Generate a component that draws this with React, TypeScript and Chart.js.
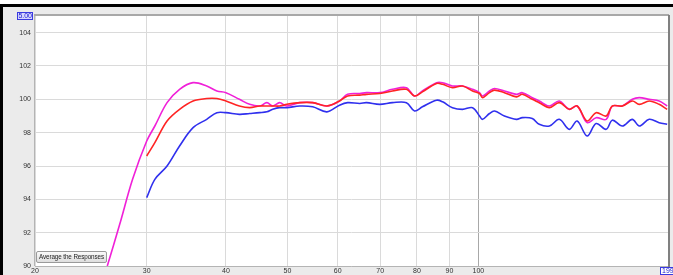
import React, { useEffect, useRef } from "react";
import { Chart, registerables } from "chart.js";

Chart.register(...registerables);

const FREQS = [26, 27.2, 28.5, 30, 30.9, 32.3, 33.8, 35.5, 37.3, 38.7, 40, 42, 43.6, 45.2, 46.4, 47.4, 48.6, 49.9, 52.3, 54.8, 57.7, 60.4, 62.2, 65, 66.6, 69.9, 73.2, 77, 79.3, 81.6, 85.9, 87.8, 91, 94.4, 97.9, 100.4, 101.5, 104.1, 106, 109.9, 114.8, 117.3, 121.6, 124.7, 129.4, 134.1, 139.1, 143.1, 148.4, 153.3, 159, 162.6, 168.6, 174.8, 179.3, 185.9, 192.7, 198.4];

const MAGENTA = [90, 92.5, 95.2, 97.5, 98.4, 99.8, 100.6, 101.0, 100.8, 100.5, 100.4, 100.0, 99.7, 99.6, 99.8, 99.6, 99.8, 99.6, 99.8, 99.8, 99.6, 99.9, 100.3, 100.35, 100.4, 100.4, 100.6, 100.7, 100.2, 100.5, 101.0, 101.0, 100.8, 100.8, 100.6, 100.4, 100.2, 100.5, 100.65, 100.5, 100.3, 100.4, 100.1, 99.9, 99.6, 99.9, 99.4, 99.6, 98.6, 98.9, 98.8, 99.6, 99.6, 100.0, 100.1, 100.0, 99.9, 99.6];

const RED = [null, null, null, 96.6, 97.4, 98.7, 99.4, 99.9, 100.05, 100.05, 99.9, 99.6, 99.5, 99.6, 99.6, 99.6, 99.6, 99.7, 99.8, 99.8, 99.6, 99.9, 100.2, 100.25, 100.3, 100.35, 100.5, 100.6, 100.2, 100.45, 100.95, 100.9, 100.7, 100.8, 100.5, 100.35, 100.1, 100.4, 100.55, 100.4, 100.15, 100.3, 100.0, 99.8, 99.5, 99.8, 99.4, 99.6, 98.7, 99.2, 99.0, 99.6, 99.6, 99.9, 99.7, 99.9, 99.7, 99.4];

const BLUE = [null, null, null, 94.1, 95.2, 96.0, 97.2, 98.3, 98.8, 99.2, 99.2, 99.1, 99.15, 99.2, 99.25, 99.4, 99.5, 99.5, 99.6, 99.55, 99.25, 99.65, 99.8, 99.75, 99.8, 99.7, 99.8, 99.8, 99.3, 99.55, 99.95, 99.85, 99.5, 99.4, 99.5, 99.0, 98.8, 99.15, 99.3, 99.0, 98.8, 98.9, 98.85, 98.5, 98.4, 98.8, 98.2, 98.7, 97.8, 98.55, 98.2, 98.75, 98.4, 98.8, 98.4, 98.8, 98.6, 98.5];

const X_TICKS = [20, 30, 40, 50, 60, 70, 80, 90, 100];
const Y_TICKS = [90, 92, 94, 96, 98, 100, 102, 104];
const X_MIN = 20;
const X_MAX = 199;
const Y_MIN = 90;
const Y_MAX = 105;
const BUTTON_LABEL = "Average the Responses";

const FONT = "'Liberation Sans', Arial, sans-serif";

function toPoints(vals: (number | null)[]) {
  const pts: { x: number; y: number }[] = [];
  vals.forEach((v, i) => {
    if (v !== null) pts.push({ x: FREQS[i], y: v });
  });
  return pts;
}

const chromePlugin = {
  id: "chrome",
  beforeDraw(chart: any) {
    const { ctx, width, height, chartArea } = chart;
    ctx.save();
    ctx.fillStyle = "#ebebeb";
    ctx.fillRect(0, 0, width, height);
    ctx.fillStyle = "#ffffff";
    ctx.fillRect(0, 0, width, 4);
    ctx.fillStyle = "#000000";
    ctx.fillRect(0, 4, width, 3);
    ctx.fillRect(0, 7, 3, height - 7);
    ctx.fillStyle = "#ffffff";
    ctx.fillRect(chartArea.left, chartArea.top, chartArea.right - chartArea.left, chartArea.bottom - chartArea.top);
    ctx.restore();
  },
  afterDraw(chart: any) {
    const { ctx, chartArea, scales } = chart;
    ctx.save();
    // plot frame
    ctx.strokeStyle = "#b4b4b4";
    ctx.lineWidth = 1;
    ctx.beginPath();
    ctx.moveTo(chartArea.left - 0.5, chartArea.top);
    ctx.lineTo(chartArea.left - 0.5, chartArea.bottom);
    ctx.moveTo(chartArea.left, chartArea.bottom + 0.5);
    ctx.lineTo(chartArea.right, chartArea.bottom + 0.5);
    ctx.stroke();
    ctx.strokeStyle = "#a8a8a8";
    ctx.lineWidth = 2;
    ctx.beginPath();
    ctx.moveTo(chartArea.left - 1, chartArea.top - 1);
    ctx.lineTo(chartArea.right + 1, chartArea.top - 1);
    ctx.stroke();
    ctx.strokeStyle = "#808080";
    ctx.beginPath();
    ctx.moveTo(chartArea.right + 1, chartArea.top - 1);
    ctx.lineTo(chartArea.right + 1, chartArea.bottom + 1);
    ctx.stroke();

    // top y-axis value box
    const yTop = scales.y.getPixelForValue(Y_MAX);
    const bx = 17, bw = 16, bh = 8, by = Math.round(yTop) - 4;
    ctx.fillStyle = "#d8d8ff";
    ctx.fillRect(bx, by, bw, bh);
    ctx.strokeStyle = "#3a3ae0";
    ctx.lineWidth = 1;
    ctx.strokeRect(bx + 0.5, by + 0.5, bw - 1, bh - 1);
    ctx.save();
    ctx.beginPath();
    ctx.rect(bx + 1, by, bw - 2, bh);
    ctx.clip();
    ctx.fillStyle = "#2020d0";
    ctx.font = "7px " + FONT;
    ctx.textAlign = "right";
    ctx.textBaseline = "middle";
    ctx.fillText(Y_MAX.toFixed(2), bx + bw - 1, by + bh / 2 + 0.5);
    ctx.restore();

    // right x-axis value box
    const xr = scales.x.getPixelForValue(X_MAX);
    const rx = Math.round(xr) - 8, ry = chartArea.bottom + 1, rw = 16, rh = 8;
    ctx.fillStyle = "#ffffff";
    ctx.fillRect(rx, ry, rw, rh);
    ctx.strokeStyle = "#3a3ae0";
    ctx.strokeRect(rx + 0.5, ry + 0.5, rw - 1, rh - 1);
    ctx.fillStyle = "#2020d0";
    ctx.font = "7px " + FONT;
    ctx.textAlign = "left";
    ctx.textBaseline = "middle";
    ctx.fillText(String(X_MAX), rx + 2, ry + rh / 2 + 0.5);
    ctx.restore();
  },
};

export default function App() {
  const ref = useRef<HTMLCanvasElement | null>(null);
  useEffect(() => {
    if (!ref.current) return;
    const chart = new Chart(ref.current, {
      type: "line",
      data: {
        datasets: [
          { label: "Red", data: toPoints(RED), borderColor: "#ff2424", borderWidth: 1.6, pointRadius: 0, tension: 0.35, fill: false },
          { label: "Magenta", data: toPoints(MAGENTA), borderColor: "#f020d8", borderWidth: 1.6, pointRadius: 0, tension: 0.35, fill: false },
          { label: "Blue", data: toPoints(BLUE), borderColor: "#3030ee", borderWidth: 1.6, pointRadius: 0, tension: 0.35, fill: false },
        ],
      },
      options: {
        responsive: false,
        animation: false,
        events: [],
        layout: { padding: { top: 16, right: 5, left: 0, bottom: 0 } },
        plugins: { legend: { display: false }, tooltip: { enabled: false } },
        scales: {
          x: {
            type: "logarithmic",
            min: X_MIN,
            max: X_MAX,
            afterBuildTicks: (s: any) => {
              s.ticks = X_TICKS.map((v) => ({ value: v }));
            },
            afterFit: (s: any) => {
              s.height = 9;
            },
            ticks: {
              autoSkip: false,
              maxRotation: 0,
              padding: 1,
              color: "#333333",
              font: { size: 7, family: FONT },
              callback: (v: any) => String(v),
            },
            grid: {
              drawTicks: false,
              color: (c: any) => (c.tick && c.tick.value === 100 ? "#a8a8a8" : "#dadada"),
              lineWidth: 1,
            },
            border: { display: false },
          },
          y: {
            type: "linear",
            min: Y_MIN,
            max: Y_MAX,
            afterBuildTicks: (s: any) => {
              s.ticks = Y_TICKS.map((v) => ({ value: v }));
            },
            afterFit: (s: any) => {
              s.width = 35;
            },
            ticks: {
              padding: 4,
              color: "#333333",
              font: { size: 7, family: FONT },
              callback: (v: any) => String(v),
            },
            grid: { drawTicks: false, color: "#dadada", lineWidth: 1 },
            border: { display: false },
          },
        },
      },
      plugins: [chromePlugin],
    });
    return () => chart.destroy();
  }, []);

  return (
    <div style={{ position: "absolute", left: 0, top: 0, width: 673, height: 275, overflow: "hidden" }}>
      <canvas ref={ref} width={673} height={275} style={{ display: "block" }} />
      <div
        style={{
          position: "absolute",
          left: 36,
          top: 251,
          width: 71,
          height: 12,
          boxSizing: "border-box",
          border: "1px solid #9a9a9a",
          borderRadius: 2,
          background: "linear-gradient(#fafafa, #dedede)",
          fontFamily: FONT,
          fontSize: 6.3,
          letterSpacing: -0.1,
          lineHeight: "10px",
          color: "#222",
          textAlign: "center",
          whiteSpace: "nowrap",
          overflow: "hidden",
        }}
      >
        {BUTTON_LABEL}
      </div>
    </div>
  );
}
